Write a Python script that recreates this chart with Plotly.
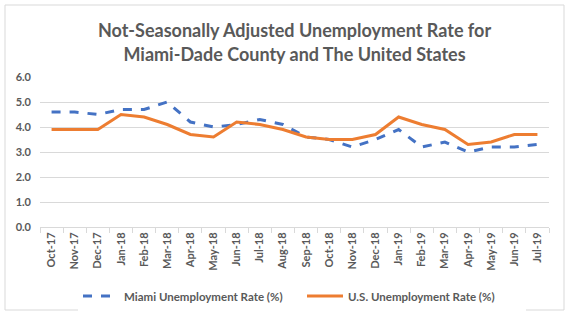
import plotly.graph_objects as go

months = ["Oct-17", "Nov-17", "Dec-17", "Jan-18", "Feb-18", "Mar-18", "Apr-18", "May-18",
          "Jun-18", "Jul-18", "Aug-18", "Sep-18", "Oct-18", "Nov-18", "Dec-18", "Jan-19",
          "Feb-19", "Mar-19", "Apr-19", "May-19", "Jun-19", "Jul-19"]
miami = [4.6, 4.6, 4.5, 4.7, 4.7, 5.0, 4.2, 4.0, 4.1, 4.3, 4.1, 3.6, 3.5, 3.2, 3.5, 3.9,
         3.2, 3.4, 3.0, 3.2, 3.2, 3.3]
us = [3.9, 3.9, 3.9, 4.5, 4.4, 4.1, 3.7, 3.6, 4.2, 4.1, 3.9, 3.6, 3.5, 3.5, 3.7, 4.4,
      4.1, 3.9, 3.3, 3.4, 3.7, 3.7]
y_ticks = [0, 1, 2, 3, 4, 5, 6]

font_family = "Lato, 'Open Sans', sans-serif"
gray = "#595959"

fig = go.Figure()
fig.add_trace(go.Scatter(x=months, y=miami, mode="lines", name="Miami Unemployment Rate (%)",
                         line=dict(color="#4472C4", width=3, dash="dash")))
fig.add_trace(go.Scatter(x=months, y=us, mode="lines", name="U.S. Unemployment Rate (%)",
                         line=dict(color="#ED7D31", width=3)))

fig.update_layout(
    width=573, height=326,
    margin=dict(l=40, r=24, t=77, b=99, autoexpand=False),
    paper_bgcolor="white", plot_bgcolor="white",
    title=dict(text="<b>Not-Seasonally Adjusted Unemployment Rate for<br>Miami-Dade County and The United States</b>",
               x=0.514, xanchor="center", y=0.885, yanchor="middle",
               font=dict(family=font_family, size=18, color=gray)),
    font=dict(family=font_family, color=gray),
    showlegend=True,
    legend=dict(orientation="h", x=(78 - 40) / 509, xanchor="left", y=-0.46, yanchor="middle",
                font=dict(size=11.5, color=gray, weight="bold"),
                entrywidth=173, itemwidth=36),
    xaxis=dict(type="category", tickangle=-90, ticks="outside", tickson="boundaries",
               ticklen=5, tickcolor="#D9D9D9", showline=True, linecolor="#D9D9D9",
               showgrid=False, tickfont=dict(size=11, color=gray, weight="bold"),
               range=[-0.5, len(months) - 0.5]),
    yaxis=dict(range=[0, 6], tickvals=y_ticks, tickformat=".1f", showgrid=True,
               gridcolor="#D9D9D9", zeroline=False, showline=False,
               tickfont=dict(size=11, color=gray, weight="bold"), ticks="", ticklabelstandoff=8),
    shapes=[dict(type="rect", xref="paper", yref="paper",
                 x0=-35/509, x1=(564-40)/509, y0=(227-310)/150, y1=(227-5)/150,
                 line=dict(color="#D9D9D9", width=1), fillcolor="rgba(0,0,0,0)", layer="below")],
)

fig.write_html("out.html")
